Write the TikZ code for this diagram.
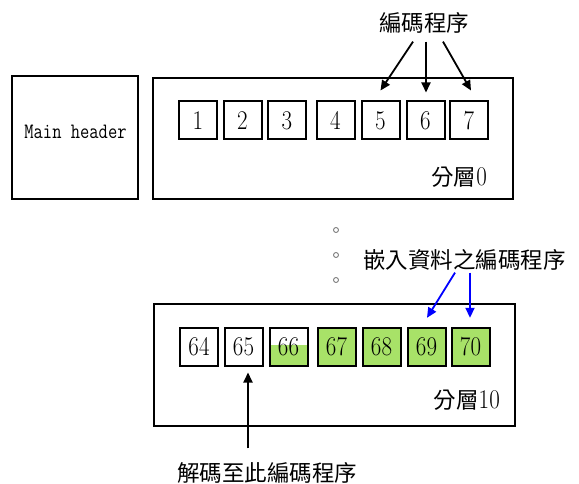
\documentclass[tikz,border=0pt]{standalone}
\usepackage{fontspec}
\newfontfamily\cjk{Noto Sans CJK TC}
\usetikzlibrary{arrows.meta,calc}
\definecolor{cellgreen}{RGB}{168,226,104}
\newcommand\cellnum[1]{\scalebox{0.85}[1]{#1}}
\begin{document}
\begin{tikzpicture}[x=1pt,y=-1pt,
  frame/.style={draw,line width=2pt,inner sep=0pt},
  cell/.style={draw,line width=2pt,minimum size=38pt,inner sep=0pt,font=\fontsize{27}{27}\selectfont},
  gcell/.style={cell,fill=cellgreen},
  lbl/.style={inner sep=0pt,font=\cjk\fontsize{22.5}{24}\selectfont},
  layerlbl/.style={inner sep=0pt,anchor=east,font=\fontsize{27}{27}\selectfont},
  arr/.style={line width=1.8pt,-{Triangle[length=10pt,width=9pt]}},
  barr/.style={arr,blue},
  dot/.style={circle,draw=gray,line width=0.9pt,inner sep=0pt,minimum size=5pt}]
\useasboundingbox[fill=white] (0,0) rectangle (579,484);

% main header
\node[frame,minimum width=126pt,minimum height=123pt] (mh) at (75,137.5) {};
\node[inner sep=0pt,font=\ttfamily\fontsize{22}{22}\selectfont] (mhtext) at ($(mh.center)+(0.5pt,6pt)$) {\scalebox{0.82}[1]{Main header}};

% layer 0
\node[frame,minimum width=360pt,minimum height=121pt] (l0) at (333,138.5) {};
\node[cell] (c1) at (198,120.5) {\cellnum{1}};
\node[cell] (c2) at (242.5,120.5) {\cellnum{2}};
\node[cell] (c3) at (287,120.5) {\cellnum{3}};
\node[cell] (c4) at (335.5,120.5) {\cellnum{4}};
\node[cell] (c5) at (380.5,120.5) {\cellnum{5}};
\node[cell] (c6) at (425.5,120.5) {\cellnum{6}};
\node[cell] (c7) at (469,120.5) {\cellnum{7}};
\node[layerlbl] (l0lbl) at (487,177) {{\cjk\fontsize{22.5}{24}\selectfont 分層}\cellnum{0}};

\node[lbl] (enc) at (424,23) {編碼程序};
\draw[arr] ($(enc.south)+(-11pt,-8pt)$) -- ($(c5.north)+(0pt,10pt)$);
\draw[arr] ($(enc.south)+(2pt,-8pt)$) -- ($(c6.north)+(0.5pt,8pt)$);
\draw[arr] ($(enc.south)+(19pt,-8pt)$) -- ($(c7.north)+(2pt,10pt)$);

% dots
\node[dot] (d1) at (336,230) {};
\node[dot] (d2) at (336,255) {};
\node[dot] (d3) at (336,280) {};

% layer 10
\node[frame,minimum width=361pt,minimum height=122pt] (l10) at (334.5,365) {};
\node[cell] (c64) at (199,346.5) {\cellnum{64}};
\node[cell] (c65) at (243.5,346.5) {\cellnum{65}};
\node[cell,path picture={\fill[cellgreen] (path picture bounding box.south west) rectangle ($(path picture bounding box.east)+(0pt,1.5pt)$);}] (c66) at (288.5,346.5) {\cellnum{66}};
\node[gcell] (c67) at (336.5,346.5) {\cellnum{67}};
\node[gcell] (c68) at (381.5,346.5) {\cellnum{68}};
\node[gcell] (c69) at (426.5,346.5) {\cellnum{69}};
\node[gcell] (c70) at (470.5,346.5) {\cellnum{70}};
\node[layerlbl] (l10lbl) at (500,400) {{\cjk\fontsize{22.5}{24}\selectfont 分層}\cellnum{10}};

\node[lbl] (emb) at (464.5,260) {嵌入資料之編碼程序};
\draw[barr] ($(emb.south)+(-9.5pt,-2pt)$) -- ($(c69.north)+(0.5pt,8.7pt)$);
\draw[barr] ($(emb.south)+(5.5pt,-2pt)$) -- ($(c70.north)+(-0.5pt,8.7pt)$);

\node[lbl] (dec) at (267,473) {解碼至此編碼程序};
\draw[arr] ($(dec.north)+(-19pt,14pt)$) -- ($(c65.south)+(4.5pt,-6pt)$);
\end{tikzpicture}
\end{document}
